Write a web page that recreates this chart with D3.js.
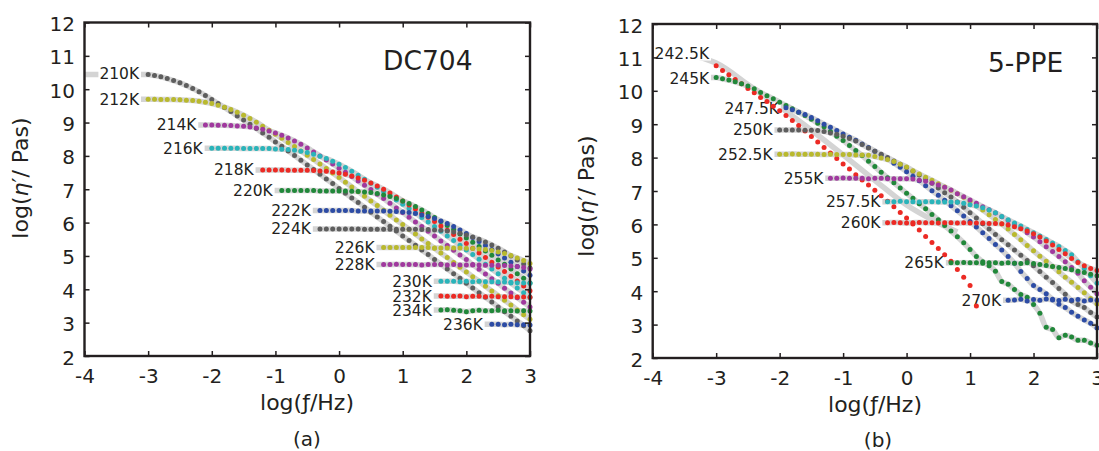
<!DOCTYPE html>
<html><head><meta charset="utf-8">
<script src="https://cdn.jsdelivr.net/npm/d3@7"></script>
<style>
body{margin:0;background:#fff}
svg{display:block;font-family:"DejaVu Sans",sans-serif}
</style></head><body>
<svg id="chart" width="1099" height="451"></svg>
<script>
// measurement grid, log(f/Hz)
const logFreq = [-3.0,-2.9,-2.8,-2.7,-2.6,-2.5,-2.4,-2.3,-2.2,-2.1,-2.0,-1.9,-1.8,-1.7,-1.6,-1.5,-1.4,-1.3,-1.2,-1.1,
 -1.0,-0.9,-0.8,-0.7,-0.6,-0.5,-0.4,-0.3,-0.2,-0.1,0.0,0.1,0.2,0.3,0.4,0.5,0.6,0.7,0.8,0.9,
 1.0,1.1,1.2,1.3,1.4,1.5,1.6,1.7,1.8,1.9,2.0,2.1,2.2,2.3,2.4,2.5,2.6,2.7,2.8,2.9,3.0];
const xTicks = [-4,-3,-2,-1,0,1,2,3];
const yTicks = [2,3,4,5,6,7,8,9,10,11,12];

// ---------- (a) DC704 ----------
const dcTemps  = ["210K","212K","214K","216K","218K","220K","222K","224K","226K","228K","230K","232K","234K","236K"];
const dcStart  = [-3.0,-3.0,-2.1,-2.0,-1.2,-0.9,-0.3,-0.3,0.7,0.7,1.6,1.6,1.6,2.4];
const dcFitFrom= [-4.0,-3.6,-2.7,-2.6,-1.8,-1.5,-0.9,-0.9,0.1,0.1,1.0,1.0,1.0,1.8];
const dcLabelV = [10.47,9.70,8.93,8.23,7.58,6.96,6.36,5.81,5.25,4.74,4.24,3.79,3.37,2.94];
const dcColors = ["#5e5e5e","#b9b92e","#a0399e","#2ab4ba","#ec2a24","#21883a","#2d4ca5","#5e5e5e","#b9b92e","#a0399e","#2ab4ba","#ec2a24","#21883a","#2d4ca5"];
const dc210 = [10.44,10.41,10.37,10.32,10.26,10.19,10.11,10.02,9.92,9.81,9.69,9.57,9.45,9.33,9.20,9.08,8.95,8.82,8.69,8.56,8.42,8.29,8.15,8.01,7.87,7.73,7.59,7.45,7.31,7.17,7.02,6.88,6.74,6.60,6.46,6.31,6.17,6.03,5.89,5.75,5.60,5.46,5.32,5.18,5.04,4.89,4.75,4.61,4.47,4.33,4.18,4.04,3.90,3.76,3.62,3.47,3.33,3.19,3.05,2.91,2.76];
const dc212 = [9.70,9.70,9.69,9.69,9.69,9.68,9.67,9.66,9.64,9.61,9.57,9.52,9.46,9.39,9.31,9.22,9.12,9.01,8.89,8.77,8.65,8.53,8.40,8.28,8.15,8.02,7.89,7.76,7.62,7.49,7.35,7.21,7.07,6.93,6.79,6.65,6.51,6.37,6.22,6.08,5.94,5.80,5.66,5.51,5.37,5.23,5.09,4.95,4.80,4.66,4.52,4.38,4.24,4.09,3.95,3.81,3.67,3.53,3.38,3.24,3.10];
const dc214 = [8.93,8.93,8.92,8.92,8.91,8.90,8.89,8.87,8.84,8.80,8.75,8.69,8.62,8.54,8.45,8.35,8.24,8.12,8.00,7.88,7.76,7.63,7.51,7.38,7.25,7.12,6.99,6.85,6.72,6.58,6.44,6.30,6.16,6.02,5.88,5.74,5.60,5.45,5.31,5.17,5.03,4.89,4.74,4.60,4.46,4.32,4.18,4.03,3.89,3.75,3.61,3.47];
const dc216 = [8.23,8.23,8.23,8.23,8.23,8.22,8.22,8.22,8.22,8.22,8.21,8.20,8.19,8.17,8.14,8.10,8.05,7.99,7.92,7.84,7.75,7.65,7.54,7.42,7.30,7.18,7.06,6.93,6.81,6.68,6.55,6.42,6.29,6.15,6.02,5.88,5.74,5.60,5.46,5.32,5.18,5.04,4.90,4.75,4.61,4.47,4.33,4.19,4.04,3.90,3.76];
const dc218 = [7.58,7.58,7.58,7.58,7.57,7.57,7.57,7.57,7.56,7.55,7.54,7.52,7.49,7.45,7.40,7.34,7.27,7.19,7.10,7.00,6.89,6.77,6.65,6.53,6.41,6.28,6.16,6.03,5.90,5.77,5.64,5.50,5.37,5.23,5.09,4.95,4.81,4.67,4.53,4.39,4.25,4.10,3.96];
const dc220 = [6.96,6.96,6.96,6.96,6.96,6.96,6.95,6.95,6.95,6.95,6.95,6.94,6.93,6.92,6.90,6.87,6.83,6.78,6.72,6.65,6.57,6.48,6.38,6.27,6.15,6.03,5.91,5.79,5.66,5.54,5.41,5.28,5.15,5.02,4.88,4.75,4.61,4.47,4.33,4.19];
const dc222 = [6.36,6.36,6.36,6.36,6.36,6.36,6.35,6.35,6.35,6.35,6.35,6.34,6.33,6.32,6.30,6.27,6.23,6.18,6.12,6.05,5.97,5.88,5.78,5.67,5.55,5.43,5.31,5.19,5.06,4.94,4.81,4.68,4.55,4.42];
const dc224 = [5.81,5.81,5.81,5.81,5.81,5.81,5.81,5.80,5.80,5.80,5.80,5.80,5.80,5.80,5.80,5.80,5.79,5.79,5.78,5.77,5.75,5.72,5.68,5.63,5.57,5.50,5.42,5.33,5.23,5.12,5.00,4.88,4.76,4.64];
const dc226 = [5.25,5.25,5.25,5.25,5.25,5.25,5.25,5.25,5.24,5.24,5.24,5.24,5.24,5.23,5.22,5.21,5.19,5.16,5.12,5.07,5.01,4.94,4.86,4.77];
const dc228 = [4.74,4.74,4.75,4.74,4.74,4.74,4.73,4.74,4.74,4.74,4.73,4.74,4.73,4.73,4.73,4.73,4.72,4.72,4.72,4.71,4.70,4.68,4.65,4.61];
const dc230 = [4.24,4.24,4.24,4.23,4.24,4.23,4.24,4.23,4.23,4.22,4.22,4.21,4.20,4.19,4.18];
const dc232 = [3.80,3.79,3.79,3.80,3.78,3.79,3.79,3.78,3.79,3.78,3.78,3.78,3.77,3.77,3.76];
const dc234 = [3.38,3.39,3.37,3.36,3.33,3.36,3.37,3.36,3.36,3.37,3.36,3.36,3.35,3.36,3.35];
const dc236 = [2.95,2.95,2.94,2.95,2.94,2.94,2.93];

// ---------- (b) 5-PPE ----------
const ppTemps  = ["242.5K","245K","247.5K","250K","252.5K","255K","257.5K","260K","265K","270K"];
const ppStart  = [-3.0,-3.0,-1.9,-2.0,-2.0,-1.2,-0.3,-0.3,0.7,1.6];
const ppFitFrom= [null,-3.6,-2.5,-2.6,-2.6,-1.8,-0.9,-0.9,0.1,1.0];
const ppLabelV = [11.13,10.38,9.46,8.83,8.10,7.38,6.68,6.05,4.85,3.72];
const ppColors = ["#ec2a24","#21883a","#2d4ca5","#5e5e5e","#b9b92e","#a0399e","#2ab4ba","#ec2a24","#21883a","#2d4ca5"];
const pp242 = [10.75,10.61,10.48,10.34,10.21,10.07,9.94,9.80,9.68,9.54,9.40,9.26,9.11,8.96,8.80,8.63,8.47,8.30,8.14,7.97,7.81,7.66,7.49,7.33,7.18,7.02,6.86,6.69,6.53,6.36,6.19,6.01,5.83,5.64,5.46,5.28,5.09,4.90,4.65,4.42,4.17,3.56];
const pp242FitFreq = [-4.0,-3.6,-3.3,-3.0,-2.5,-2.0,-1.5,-1.0,-0.5,0.0,0.4,0.8];
const pp242FitVal  = [11.17,11.14,11.02,10.83,10.19,9.52,8.82,8.08,7.32,6.58,6.14,5.77];
const pp245 = [10.40,10.36,10.32,10.27,10.21,10.14,10.06,9.95,9.85,9.76,9.66,9.56,9.46,9.36,9.26,9.15,9.03,8.92,8.78,8.64,8.51,8.36,8.21,8.06,7.89,7.73,7.56,7.40,7.25,7.09,6.93,6.78,6.62,6.47,6.30,6.14,5.97,5.80,5.63,5.45,5.25,5.04,4.88,4.76,4.60,4.29,4.21,4.05,3.90,3.82,3.60,3.34,2.92,2.85,2.61,2.68,2.63,2.53,2.53,2.45,2.38];
const pp247 = [9.49,9.43,9.36,9.29,9.20,9.10,9.00,8.91,8.81,8.71,8.61,8.52,8.41,8.30,8.19,8.08,7.96,7.83,7.71,7.58,7.44,7.31,7.16,7.01,6.87,6.72,6.56,6.41,6.25,6.09,5.92,5.75,5.58,5.40,5.23,5.04,4.84,4.59,4.38,4.17,4.05,3.92,3.76,3.61,3.51,3.37,3.25,3.14,3.04,2.90];
const pp250 = [8.83,8.83,8.83,8.83,8.82,8.82,8.81,8.78,8.74,8.70,8.64,8.57,8.50,8.39,8.29,8.19,8.10,8.00,7.90,7.80,7.70,7.59,7.48,7.36,7.23,7.09,6.95,6.82,6.67,6.51,6.35,6.19,6.02,5.86,5.70,5.54,5.39,5.23,5.08,4.92,4.76,4.59,4.42,4.26,4.08,3.91,3.71,3.60,3.51,3.36,3.23];
const pp252 = [8.10,8.10,8.11,8.10,8.10,8.10,8.10,8.09,8.10,8.09,8.09,8.09,8.08,8.08,8.07,8.03,7.99,7.94,7.88,7.80,7.72,7.61,7.51,7.41,7.32,7.22,7.12,7.02,6.92,6.81,6.69,6.56,6.43,6.29,6.15,6.01,5.86,5.70,5.54,5.37,5.21,5.05,4.90,4.74,4.58,4.42,4.27,4.11,3.95,3.78,3.62];
const pp255 = [7.38,7.38,7.39,7.38,7.38,7.38,7.37,7.38,7.38,7.37,7.37,7.37,7.37,7.36,7.32,7.29,7.24,7.18,7.11,7.03,6.92,6.83,6.73,6.63,6.53,6.44,6.34,6.23,6.12,6.01,5.89,5.75,5.62,5.48,5.33,5.19,5.04,4.88,4.71,4.54,4.31,4.12,3.92];
const pp257 = [6.68,6.68,6.69,6.68,6.68,6.67,6.68,6.68,6.67,6.67,6.67,6.66,6.63,6.59,6.55,6.50,6.43,6.35,6.24,6.14,6.04,5.95,5.85,5.75,5.65,5.55,5.44,5.34,5.22,5.09,4.88,4.68,4.46,4.24];
const pp260 = [6.05,6.06,6.05,6.04,6.05,6.06,6.05,6.05,6.04,6.05,6.05,6.04,6.05,6.04,6.04,6.04,6.03,6.03,6.02,5.98,5.93,5.87,5.80,5.72,5.62,5.50,5.38,5.25,5.12,4.98,4.86,4.76,4.68,4.62];
const pp265 = [4.85,4.85,4.86,4.85,4.85,4.84,4.85,4.85,4.84,4.85,4.84,4.83,4.85,4.83,4.80,4.77,4.74,4.71,4.68,4.64,4.60,4.56,4.51,4.46];
const pp270 = [3.73,3.74,3.76,3.71,3.75,3.73,3.77,3.74,3.72,3.76,3.73,3.75,3.71,3.74,3.73];

const INK = "#231f20", FIT = "#d4d4d4";
const svg = d3.select("#chart");

function drawPanel(p) {
  const x = d3.scaleLinear().domain([-4, 3]).range([p.left, p.right]);
  const y = d3.scaleLinear().domain([2, 12]).range([p.bottom, p.top]);
  const g = svg.append("g");
  const line = d3.line().x(d => x(d[0])).y(d => y(d[1])).curve(d3.curveMonotoneX);

  const series = p.temps.map((t, k) => {
    const i0 = logFreq.findIndex(f => Math.abs(f - p.starts[k]) < 1e-6);
    const pts = p.values[k].map((v, i) => [logFreq[i0 + i], v]).filter(d => d[0] !== undefined);
    return { t, color: p.colors[k], pts, labelV: p.labelV[k], fitFrom: p.fitFrom[k] };
  });

  // grey fit curves
  series.forEach(s => {
    if (s.fitFrom === null) return;
    const fit = [[s.fitFrom, s.pts[0][1]]].concat(s.pts);
    g.append("path").attr("d", line(fit)).attr("fill", "none")
      .attr("stroke", FIT).attr("stroke-width", 5.5);
  });
  (p.extraFits || []).forEach(f => {
    const pts = f.freq.map((fr, i) => [fr, f.val[i]]);
    g.append("path").attr("d", line(pts)).attr("fill", "none")
      .attr("stroke", FIT).attr("stroke-width", 5.5);
  });

  // temperature labels with white background
  series.forEach(s => {
    const lg = g.append("g");
    const txt = lg.append("text")
      .attr("x", x(s.pts[0][0]) - p.gap).attr("y", y(s.labelV) + 5.5)
      .attr("text-anchor", "end").attr("font-size", 15.5).attr("fill", INK).text(s.t);
    const b = txt.node().getBBox();
    lg.insert("rect", "text").attr("x", b.x - 1).attr("y", b.y + 2)
      .attr("width", b.width + 2).attr("height", b.height - 4).attr("fill", "#fff");
  });

  // data points
  series.forEach(s => {
    g.append("g").selectAll("circle").data(s.pts).join("circle")
      .attr("cx", d => x(d[0])).attr("cy", d => y(d[1])).attr("r", 2.5).attr("fill", s.color);
  });

  // axes (inward ticks on all sides)
  const fmt = d => String(d);
  const ax = [
    g.append("g").attr("transform", `translate(0,${p.bottom})`)
      .call(d3.axisBottom(x).tickValues(xTicks).tickSizeInner(-5).tickSizeOuter(0).tickPadding(13).tickFormat(fmt)),
    g.append("g").attr("transform", `translate(0,${p.top})`)
      .call(d3.axisTop(x).tickValues(xTicks).tickSizeInner(-5).tickSizeOuter(0).tickFormat("")),
    g.append("g").attr("transform", `translate(${p.left},0)`)
      .call(d3.axisLeft(y).tickValues(yTicks).tickSizeInner(-5).tickSizeOuter(0).tickPadding(9.5).tickFormat(fmt)),
    g.append("g").attr("transform", `translate(${p.right},0)`)
      .call(d3.axisRight(y).tickValues(yTicks).tickSizeInner(-5).tickSizeOuter(0).tickFormat(""))
  ];
  ax.forEach(a => {
    a.select(".domain").remove();
    a.selectAll("line").attr("stroke", INK).attr("stroke-width", 1.5);
    a.selectAll("text").attr("font-size", 20).attr("fill", INK)
      .attr("font-family", '"DejaVu Sans",sans-serif');
  });
  ax[2].selectAll("text").attr("dy", "0.4em");

  g.append("rect").attr("x", p.left).attr("y", p.top)
    .attr("width", p.right - p.left).attr("height", p.bottom - p.top)
    .attr("fill", "none").attr("stroke", INK).attr("stroke-width", 2.4);

  // titles
  const yt = g.append("text").attr("transform", `translate(${p.yTitle[0]},${p.yTitle[1]}) rotate(-90)`)
    .attr("text-anchor", "middle").attr("font-size", 22).attr("fill", INK);
  yt.append("tspan").text("log(");
  yt.append("tspan").attr("font-style", "italic").text("η");
  yt.append("tspan").text("′/ Pas)");

  const xt = g.append("text").attr("x", p.xTitle[0]).attr("y", p.xTitle[1])
    .attr("text-anchor", "middle").attr("font-size", 22).attr("fill", INK);
  xt.append("tspan").text("log(");
  xt.append("tspan").text("ƒ");
  xt.append("tspan").text("/Hz)");

  g.append("text").attr("x", p.tag[0]).attr("y", p.tag[1]).attr("text-anchor", "middle")
    .attr("font-size", 20).attr("fill", INK).text(p.tagText);
  g.append("text").attr("x", p.name[0]).attr("y", p.name[1])
    .attr("font-size", 26.5).attr("fill", INK).text(p.nameText);
}

drawPanel({
  left: 84.5, right: 530, top: 22.5, bottom: 356,
  temps: dcTemps, starts: dcStart, fitFrom: dcFitFrom, labelV: dcLabelV, colors: dcColors,
  values: [dc210, dc212, dc214, dc216, dc218, dc220, dc222, dc224, dc226, dc228, dc230, dc232, dc234, dc236],
  gap: 9, yTitle: [28, 178], xTitle: [307, 410], tag: [307, 446], tagText: "(a)",
  name: [383, 70], nameText: "DC704"
});
drawPanel({
  left: 652.7, right: 1097, top: 24, bottom: 358,
  temps: ppTemps, starts: ppStart, fitFrom: ppFitFrom, labelV: ppLabelV, colors: ppColors,
  values: [pp242, pp245, pp247, pp250, pp252, pp255, pp257, pp260, pp265, pp270],
  extraFits: [{ freq: pp242FitFreq, val: pp242FitVal }],
  gap: 7, yTitle: [594, 196], xTitle: [875, 412], tag: [878, 447], tagText: "(b)",
  name: [988, 72], nameText: "5-PPE"
});
</script>
</body></html>
